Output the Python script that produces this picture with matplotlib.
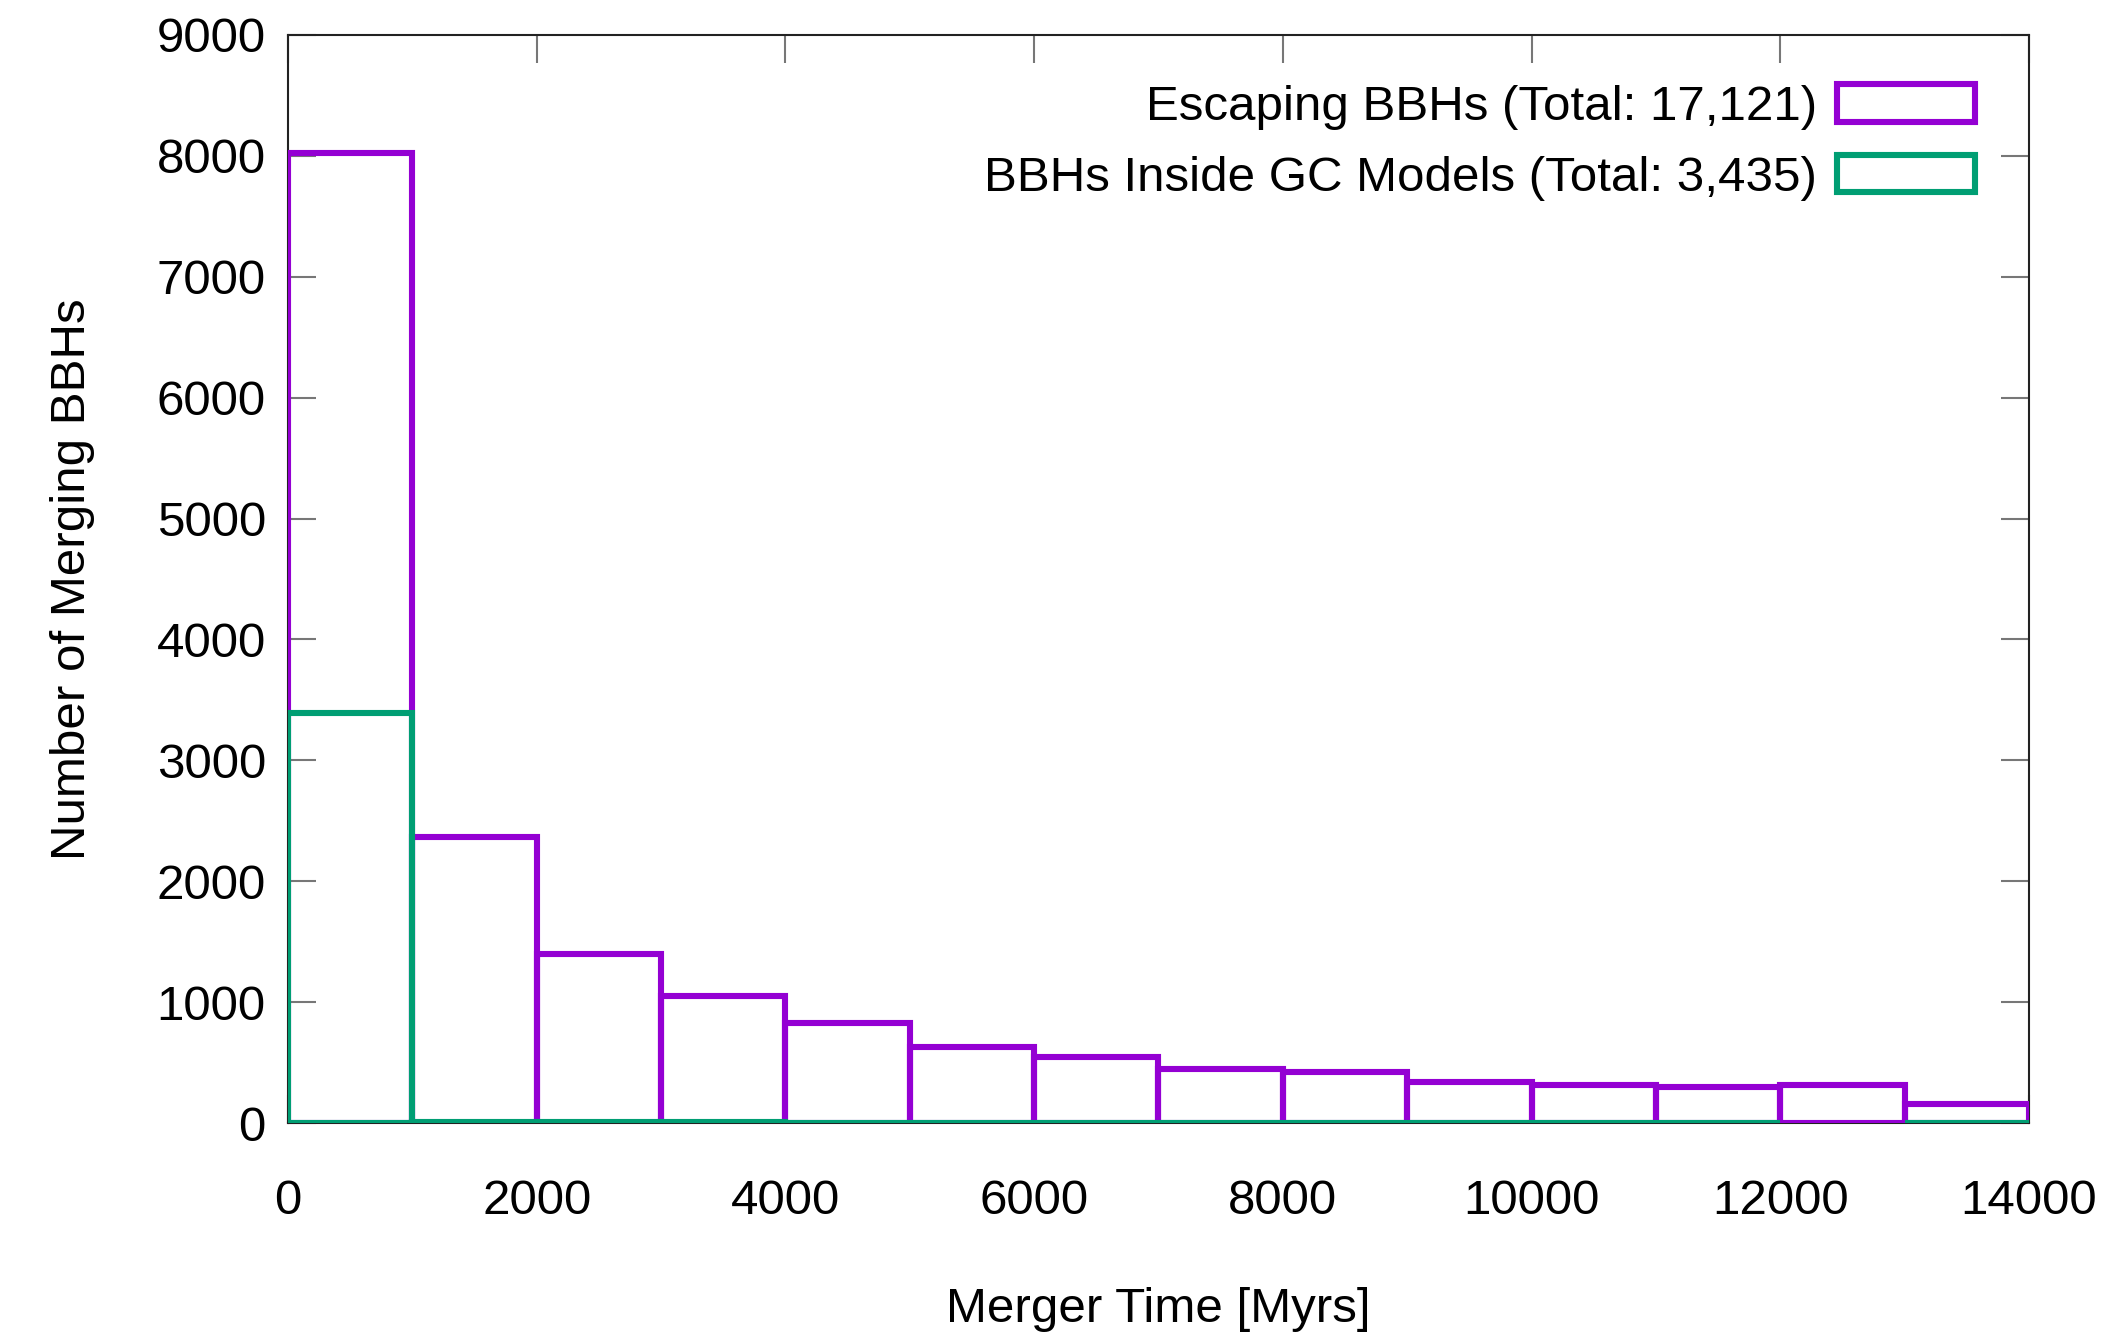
import numpy as np
import matplotlib
matplotlib.use('Agg')
import matplotlib.pyplot as plt

plt.rcParams['font.family'] = ['Liberation Sans', 'DejaVu Sans']

# bin edges (Myrs) and counts per bin
bin_left = [0, 1000, 2000, 3000, 4000, 5000, 6000, 7000, 8000, 9000, 10000, 11000, 12000, 13000]
escaping = [8020, 2365, 1400, 1050, 825, 630, 548, 447, 418, 337, 314, 295, 314, 157]
inside = [3394, 9, 7, 5, 4, 3, 2, 2, 2, 1, 1, 1, None, 1]

label_esc = 'Escaping BBHs (Total: 17,121)'
label_in = 'BBHs Inside GC Models (Total: 3,435)'

purple = '#9400D3'
green = '#009E73'
fs = 35.5

fig = plt.figure(figsize=(21.01, 13.35), dpi=100)
ax = fig.add_axes([0.1371, 0.1588, 0.8286, 0.8150])

ax.bar(bin_left, escaping, width=1000, align='edge', fill=False,
       edgecolor=purple, linewidth=4.4, label=label_esc, zorder=3)
x_in = [b for b, v in zip(bin_left, inside) if v is not None]
v_in = [v for v in inside if v is not None]
ax.bar(x_in, v_in, width=1000, align='edge', fill=False,
       edgecolor=green, linewidth=4.4, label=label_in, zorder=4)

ax.set_xlim(0, 14000)
ax.set_ylim(0, 9000)
ax.set_xticks(np.arange(0, 14001, 2000))
ax.set_yticks(np.arange(0, 9001, 1000))

for s in ax.spines.values():
    s.set_linewidth(1.5)
    s.set_color('#222222')
    s.set_zorder(2)

ax.tick_params(axis='both', which='major', direction='in', length=20, width=1.5,
               color='#777777', labelsize=fs, top=True, right=True)
ax.tick_params(axis='x', pad=40)
ax.tick_params(axis='y', pad=16)

ax.set_xlabel('Merger Time [Myrs]', fontsize=fs, labelpad=46)
ax.set_ylabel('Number of Merging BBHs', fontsize=fs, labelpad=44)

leg = ax.legend(loc='upper right', bbox_to_anchor=(0.969, 0.955), frameon=False,
                markerfirst=False, fontsize=fs, handlelength=2.8, handleheight=0.8,
                handletextpad=0.4, labelspacing=0.5, borderpad=0, borderaxespad=0)

fig.savefig('out.png', dpi=100)
